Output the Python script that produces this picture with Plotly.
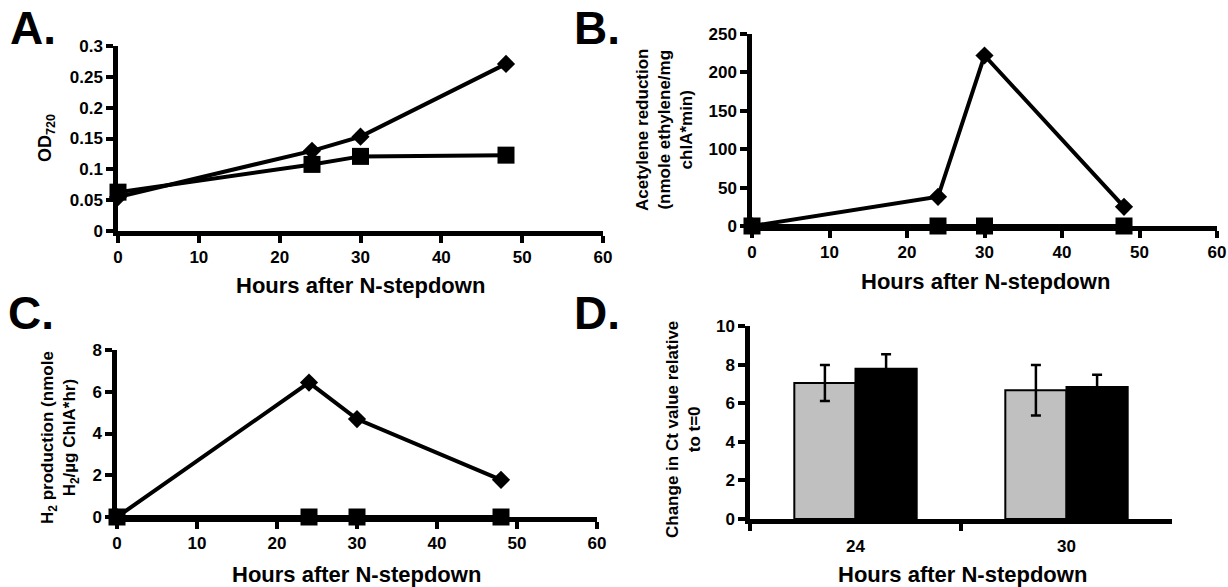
import plotly.graph_objects as go

# ---- data ----
hours = [0, 24, 30, 48]
od_diamond = [0.055, 0.130, 0.153, 0.271]
od_square = [0.063, 0.108, 0.121, 0.123]
acet_diamond = [0, 38, 222, 25]
acet_square = [0, 0, 0, 0]
h2_diamond = [0, 6.44, 4.69, 1.78]
h2_square = [0, 0, 0, 0]
ct_categories = ["24", "30"]
ct_gray = [7.05, 6.67]
ct_gray_err = [0.93, 1.31]
ct_black = [7.78, 6.84]
ct_black_err = [0.75, 0.64]

FONT = "Liberation Sans, Arial, sans-serif"
W, H = 1228, 587

def px(x):
    return x / W

def py(y):
    return 1 - y / H

fig = go.Figure()

def line_pair(xa, ya, d, s):
    fig.add_trace(go.Scatter(x=hours, y=d, xaxis=xa, yaxis=ya, mode="lines+markers",
                             line=dict(color="black", width=4),
                             marker=dict(symbol="diamond", size=14, color="black"),
                             cliponaxis=False, showlegend=False))
    fig.add_trace(go.Scatter(x=hours, y=s, xaxis=xa, yaxis=ya, mode="lines+markers",
                             line=dict(color="black", width=4),
                             marker=dict(symbol="square", size=17, color="black"),
                             cliponaxis=False, showlegend=False))

line_pair("x", "y", od_diamond, od_square)
line_pair("x2", "y2", acet_diamond, acet_square)
line_pair("x3", "y3", h2_diamond, h2_square)

fig.add_trace(go.Bar(x=ct_categories, y=ct_gray, xaxis="x4", yaxis="y4",
                     marker=dict(color="#c0c0c0", line=dict(color="black", width=2)),
                     error_y=dict(type="data", array=ct_gray_err, color="black", thickness=2.5, width=5),
                     showlegend=False))
fig.add_trace(go.Bar(x=ct_categories, y=ct_black, xaxis="x4", yaxis="y4",
                     marker=dict(color="black", line=dict(color="black", width=2)),
                     error_y=dict(type="data", array=ct_black_err, color="black", thickness=2.5, width=5),
                     showlegend=False))

tickfont = dict(family=FONT, size=17, color="black", weight="bold")
common = dict(showline=True, linecolor="black", linewidth=4.5, ticks="outside",
              ticklen=7, tickwidth=3.5, tickcolor="black", showgrid=False, zeroline=False,
              tickfont=tickfont, fixedrange=True, automargin=False)

layout = dict(
    width=W, height=H, margin=dict(l=0, r=0, t=0, b=0, pad=0),
    font=dict(family=FONT, color="black", weight="bold"),
    plot_bgcolor="white", paper_bgcolor="white",
    barmode="group", bargap=0.42, bargroupgap=0,
    xaxis=dict(domain=[px(118), px(603)], range=[0, 60], dtick=10, anchor="y", **common),
    yaxis=dict(domain=[py(231), py(46)], range=[0, 0.3], dtick=0.05, anchor="x",
               tickformat="~g", **common),
    xaxis2=dict(domain=[px(752), px(1217)], range=[0, 60], dtick=10, anchor="y2", **common),
    yaxis2=dict(domain=[py(226), py(34)], range=[0, 250], dtick=50, anchor="x2", **common),
    xaxis3=dict(domain=[px(117), px(597)], range=[0, 60], dtick=10, anchor="y3", **common),
    yaxis3=dict(domain=[py(517), py(350)], range=[0, 8], dtick=2, anchor="x3", **common),
    xaxis4=dict(domain=[px(750), px(1172)], type="category", anchor="y4",
                tickson="boundaries", ticklabelstandoff=8, **common),
    yaxis4=dict(domain=[py(519), py(326)], range=[0, 10], dtick=2, anchor="x4", **common),
)
fig.update_layout(**layout)

def ann(text, x, y, size, angle=0, xanchor="center", yanchor="middle"):
    fig.add_annotation(text=text, x=px(x), y=py(y), xref="paper", yref="paper",
                       showarrow=False, textangle=angle, xanchor=xanchor, yanchor=yanchor,
                       font=dict(family=FONT, size=size, color="black", weight="bold"))

# panel letters
ann("A.", 8, 28, 46, xanchor="left")
ann("B.", 572, 28, 46, xanchor="left")
ann("C.", 6, 313, 46, xanchor="left")
ann("D.", 572, 313, 46, xanchor="left")

# x titles
ann("Hours after N-stepdown", 360, 285, 22)
ann("Hours after N-stepdown", 985, 282, 22)
ann("Hours after N-stepdown", 356, 574, 22)
ann("Hours after N-stepdown", 962, 574, 22)

# y titles
ann("OD<sub>720</sub>", 47, 138, 18, angle=-90)
ann("Acetylene reduction<br>(nmole ethylene/mg<br>chlA*min)", 665, 130, 17, angle=-90)
ann("H<sub>2</sub> production (nmole<br>H<sub>2</sub>/µg ChlA*hr)", 60, 438, 17, angle=-90)
ann("Change in Ct value relative<br>to t=0", 683, 430, 17, angle=-90)

fig.write_html("out.html", config={"displayModeBar": False},
               post_script="document.body.style.margin='0';document.body.style.overflow='hidden';")
